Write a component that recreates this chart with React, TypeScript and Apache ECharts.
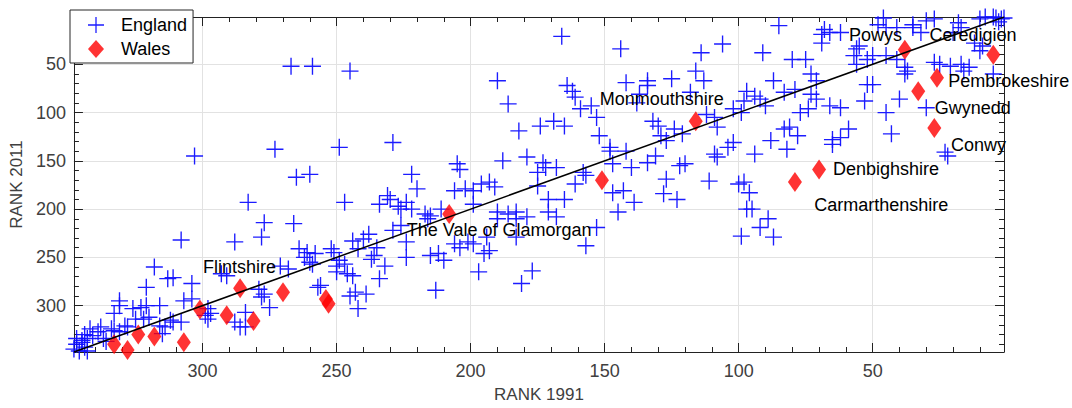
import React, { useEffect, useRef } from "react";
import * as echarts from "echarts";

// [RANK 1991, RANK 2011]
const england: [number, number][] = [
  [348,345],[347,340],[346,347],[345,338],[344,343],[343,347],[343,334],[347,334],[345,336],[344,330],
  [342,324],[339,327],[341,331],[338,322],[337,334],[336,337],[334,324],[333,326],[331,327],[333,308],
  [331,300],[331,295],[329,321],[328,322],[326,303],[323,302],[321,300],[325,314],[322,314],[320,312],
  [321,281],[318,260],[316,300],[316,321],[314,322],[315,329],[313,272],[311,271],[312,315],[311,317],
  [308,317],[308,232],[307,295],[304,293],[304,277],[303,145],[299,310],[298,314],[298,303],[297,308],
  [293,267],[291,269],[288,234],[283,193],[278,229],[277,214],[286,322],[284,322],[284,307],[288,317],
  [279,283],[277,288],[278,291],[275,302],[273,138],[267,52],[259,52],[245,57],[265,167],[260,164],
  [249,136],[247,193],[266,215],[271,259],[268,262],[264,241],[261,245],[262,250],[260,255],[258,246],
  [259,257],[252,241],[251,245],[250,259],[249,253],[250,265],[257,281],[256,279],[247,257],[246,267],
  [244,269],[245,290],[243,286],[242,303],[239,288],[244,233],[242,241],[240,231],[238,226],[237,252],
  [236,248],[235,240],[232,259],[234,272],[231,186],[230,190],[227,197],[226,200],[224,193],[234,195],
  [229,222],[226,217],[224,234],[224,250],[222,200],[217,205],[215,207],[211,200],[216,210],[229,131],
  [222,164],[220,179],[215,248],[212,246],[210,253],[206,236],[204,240],[201,234],[199,236],[195,246],
  [193,243],[194,229],[183,229],[197,265],[177,264],[181,277],[213,284],[205,153],[204,159],[206,181],
  [202,179],[199,181],[196,174],[193,172],[191,177],[199,195],[188,150],[179,146],[173,152],[172,157],
  [175,162],[168,157],[190,203],[186,205],[183,203],[183,210],[179,208],[190,210],[171,190],[171,203],
  [168,208],[165,190],[161,174],[175,176],[182,119],[174,114],[165,114],[169,109],[190,67],[186,91],
  [166,21],[144,34],[114,38],[106,29],[142,69],[134,67],[134,72],[125,65],[116,57],[113,67],
  [164,72],[162,78],[161,84],[159,96],[155,93],[153,105],[152,124],[137,81],[138,90],[118,79],
  [97,78],[98,88],[102,96],[99,100],[112,102],[109,105],[108,115],[132,109],[130,114],[129,124],
  [127,129],[124,117],[121,122],[148,136],[148,140],[142,140],[131,145],[134,152],[140,157],[147,153],
  [158,162],[157,165],[147,183],[143,181],[139,193],[145,203],[153,219],[157,238],[128,184],[123,190],
  [127,169],[122,155],[120,153],[111,171],[109,143],[108,146],[104,136],[102,131],[100,174],[97,200],
  [99,228],[85,10],[68,14],[69,19],[66,17],[62,17],[48,9],[46,2],[45,12],[41,12],
  [35,9],[69,28],[91,38],[80,45],[75,45],[56,34],[57,41],[55,31],[56,50],[50,41],
  [45,41],[41,45],[38,53],[37,57],[73,60],[71,67],[87,67],[79,76],[83,79],[73,81],
  [71,86],[52,71],[50,71],[53,88],[40,86],[94,83],[92,86],[90,93],[77,100],[74,96],
  [66,93],[62,95],[45,100],[43,122],[83,117],[81,115],[78,124],[88,129],[82,138],[65,128],
  [62,126],[59,117],[65,133],[94,143],[98,172],[96,183],[95,200],[89,210],[92,219],[87,229],
  [52,45],[35,12],[32,17],[30,5],[27,3],[18,7],[17,12],[20,17],[10,3],[8,1],
  [5,1],[4,2],[2,3],[12,28],[10,36],[9,31],[38,60],[27,48],[25,50],[21,52],
  [17,50],[16,57],[14,53],[5,60],[30,95],[23,141],[22,145],[1,2],[3,6],
];

const wales: [number, number][] = [
  [333,340],[328,346],[324,330],[318,332],[307,338],[301,304],[291,310],[286,282],[281,316],[270,286],
  [254,293],[253,298],[208,205],[151,170],[116,109],[79,172],[70,159],[38,35],[5,40],[26,64],
  [33,78],[27,116],
];

const labelNames = [
  "Powys", "Ceredigion", "Pembrokeshire", "Gwynedd", "Conwy", "Denbighshire",
  "Carmarthenshire", "Monmouthshire", "The Vale of Glamorgan", "Flintshire",
];
const labelAt: [number, number][] = [
  [59,20],[29,20],[22,67],[27,95],[21,134],[65,158],[72,196],[152,86],[224,222],[300,260],
];

const diagonal: [number, number][] = [[348, 348], [1, 1]];
const rankMin = 1;
const rankMax = 348;

const FONT = "'Liberation Sans', Arial, Helvetica, sans-serif";
const PLUS =
  "path://M-0.08,-1 L0.08,-1 L0.08,-0.08 L1,-0.08 L1,0.08 L0.08,0.08 L0.08,1 L-0.08,1 L-0.08,0.08 L-1,0.08 L-1,-0.08 L-0.08,-0.08 Z";

export default function App() {
  const ref = useRef<HTMLDivElement>(null);
  useEffect(() => {
    if (!ref.current) return;
    const chart = echarts.init(ref.current, undefined, { renderer: "svg" });
    const axisColor = "#222";
    const baseAxis = {
      type: "value" as const,
      min: rankMin,
      max: rankMax,
      splitNumber: 6,
      inverse: true,
      axisLine: { show: true, lineStyle: { color: axisColor, width: 1 } },
      axisTick: { show: true, inside: true, length: 9, lineStyle: { color: axisColor } },
      minorTick: { show: true, splitNumber: 5, length: 5, lineStyle: { color: axisColor } },
    };
    chart.setOption({
      animation: false,
      textStyle: { fontFamily: FONT },
      grid: { left: 72, right: 68, top: 17, bottom: 55 },
      legend: {
        left: 70,
        top: 10,
        orient: "vertical",
        padding: [6, 6, 5, 18],
        itemGap: 6,
        itemWidth: 16,
        itemHeight: 18,
        borderColor: "#262626",
        borderWidth: 1,
        borderRadius: 0,
        backgroundColor: "#ffffff",
        z: 20,
        textStyle: { fontSize: 18, color: "#000", fontFamily: FONT, padding: [0, 0, 0, 12], lineHeight: 18 },
        data: [
          { name: "England", icon: PLUS },
          { name: "Wales", icon: "diamond" },
        ],
      },
      xAxis: [
        {
          ...baseAxis,
          position: "bottom",
          name: "RANK 1991",
          nameLocation: "middle",
          nameGap: 34,
          nameTextStyle: { fontSize: 17, color: "#404040", fontFamily: FONT },
          axisLabel: {
            show: true, fontSize: 18, color: "#404040", margin: 10,
            showMinLabel: false, showMaxLabel: false, fontFamily: FONT,
          },
          splitLine: { show: true, lineStyle: { color: "#e2e2e2", width: 1 } },
        },
        {
          ...baseAxis,
          position: "top",
          axisLabel: { show: false },
          splitLine: { show: false },
        },
      ],
      yAxis: [
        {
          ...baseAxis,
          position: "left",
          name: "RANK 2011",
          nameLocation: "middle",
          nameGap: 45,
          nameTextStyle: { fontSize: 17, color: "#404040", fontFamily: FONT },
          axisLabel: {
            show: true, fontSize: 18, color: "#404040", margin: 8,
            showMinLabel: false, showMaxLabel: false, fontFamily: FONT,
          },
          splitLine: { show: true, lineStyle: { color: "#e2e2e2", width: 1 } },
        },
        {
          ...baseAxis,
          position: "right",
          axisLabel: { show: false },
          splitLine: { show: false },
        },
      ],
      series: [
        {
          name: "England",
          type: "scatter",
          xAxisIndex: 0,
          yAxisIndex: 0,
          symbol: PLUS,
          symbolSize: 17,
          itemStyle: { color: "#1010ff", opacity: 0.95 },
          data: england,
          z: 2,
        },
        {
          name: "Wales",
          type: "scatter",
          xAxisIndex: 0,
          yAxisIndex: 0,
          symbol: "diamond",
          symbolSize: [14, 20],
          itemStyle: { color: "#ff0000" },
          data: wales,
          z: 3,
        },
        {
          name: "diagonal",
          type: "line",
          xAxisIndex: 0,
          yAxisIndex: 0,
          data: diagonal,
          symbol: "none",
          lineStyle: { color: "#000", width: 1.5 },
          silent: true,
          z: 4,
        },
        {
          name: "labels",
          type: "scatter",
          xAxisIndex: 0,
          yAxisIndex: 0,
          symbolSize: 1,
          itemStyle: { color: "rgba(0,0,0,0)" },
          silent: true,
          z: 5,
          data: labelAt.map((p, i) => ({ value: p, name: labelNames[i] })),
          label: {
            show: true,
            position: "right",
            distance: 0,
            formatter: (p: any) => p.name,
            fontSize: 18,
            color: "#000000",
            opacity: 1,
            textBorderWidth: 0,
            fontFamily: FONT,
          },
        },
      ],
    });
    return () => chart.dispose();
  }, []);
  return (
    <div
      ref={ref}
      style={{ position: "fixed", left: 0, top: 0, width: 1072, height: 408, background: "#fff" }}
    />
  );
}
